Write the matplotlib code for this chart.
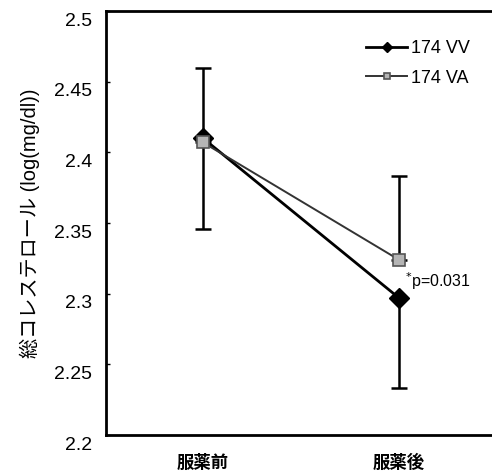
"""
Total cholesterol (log scale) before / after dosing for the 174 VV and 174 VA groups.
"""

import matplotlib
matplotlib.use("Agg")
import matplotlib.pyplot as plt
import matplotlib.transforms as mtransforms

plt.rcParams["font.family"] = ["Liberation Sans", "Noto Sans CJK JP", "DejaVu Sans"]

# data
categories = ["服薬前", "服薬後"]
x_pos = [0, 1]
vv_mean = [2.410, 2.297]
va_mean = [2.407, 2.324]
# asymmetric error bars (only one side is drawn per point in the original)
vv_err_low = [0.0, 0.064]
vv_err_up = [0.050, 0.0]
va_err_low = [0.061, 0.0]
va_err_up = [0.0, 0.059]
y_ticks = [2.2, 2.25, 2.3, 2.35, 2.4, 2.45, 2.5]
y_tick_labels = ["2.2", "2.25", "2.3", "2.35", "2.4", "2.45", "2.5"]
p_label = "$^{*}$p=0.031"


def draw_errors(ax, xs, means, low, up, zorder):
    for x, m, lo, hi in zip(xs, means, low, up):
        if lo == 0 and hi == 0:
            continue
        ax.errorbar([x], [m], yerr=[[lo], [hi]], fmt="none", ecolor="black",
                    elinewidth=1.8, capsize=6, capthick=1.8, zorder=zorder)


fig = plt.figure(figsize=(4.92, 4.75), dpi=100)
ax = fig.add_axes([0.2154, 0.0842, 0.7846, 0.8926])

draw_errors(ax, x_pos, vv_mean, vv_err_low, vv_err_up, 1)
draw_errors(ax, x_pos, va_mean, va_err_low, va_err_up, 1)

ax.plot(x_pos, vv_mean, color="black", lw=2.0, marker="D", markersize=10,
        markerfacecolor="black", markeredgecolor="black", zorder=3, label="174 VV")
ax.plot(x_pos, va_mean, color="#333333", lw=1.4, marker="s", markersize=9,
        markerfacecolor="#b5b5b5", markeredgecolor="#555555", markeredgewidth=1.2,
        zorder=4, label="174 VA")

ax.text(1.03, 2.309, p_label, fontsize=11.5, ha="left", va="center")

ax.set_xlim(-0.495, 1.475)
ax.set_ylim(2.2, 2.5)
ax.set_yticks(y_ticks)
ax.set_yticklabels(y_tick_labels, fontsize=14)
ax.set_xticks(x_pos)
ax.set_xticklabels(categories, fontsize=12.5, fontweight="bold",
                   family=["Noto Sans CJK JP"])
ax.tick_params(axis="y", direction="in", length=3, width=1, pad=10)
ax.tick_params(axis="x", length=0, pad=14)

# labels in the original sit a little below their ticks
offset = mtransforms.ScaledTranslation(0, -8 / 100, fig.dpi_scale_trans)
for lbl in ax.get_yticklabels():
    lbl.set_transform(lbl.get_transform() + offset)

ax.set_ylabel("総コレステロール (log(mg/dl))", fontsize=14.5, labelpad=10)

for side in ["left", "bottom", "top"]:
    ax.spines[side].set_linewidth(2.0)
ax.spines["right"].set_visible(False)

ax.legend(loc="upper right", bbox_to_anchor=(0.985, 0.97), frameon=False,
          fontsize=13, handlelength=2.3, handletextpad=0.2, markerscale=0.55,
          labelspacing=0.7)

fig.savefig("out.png", dpi=100)
